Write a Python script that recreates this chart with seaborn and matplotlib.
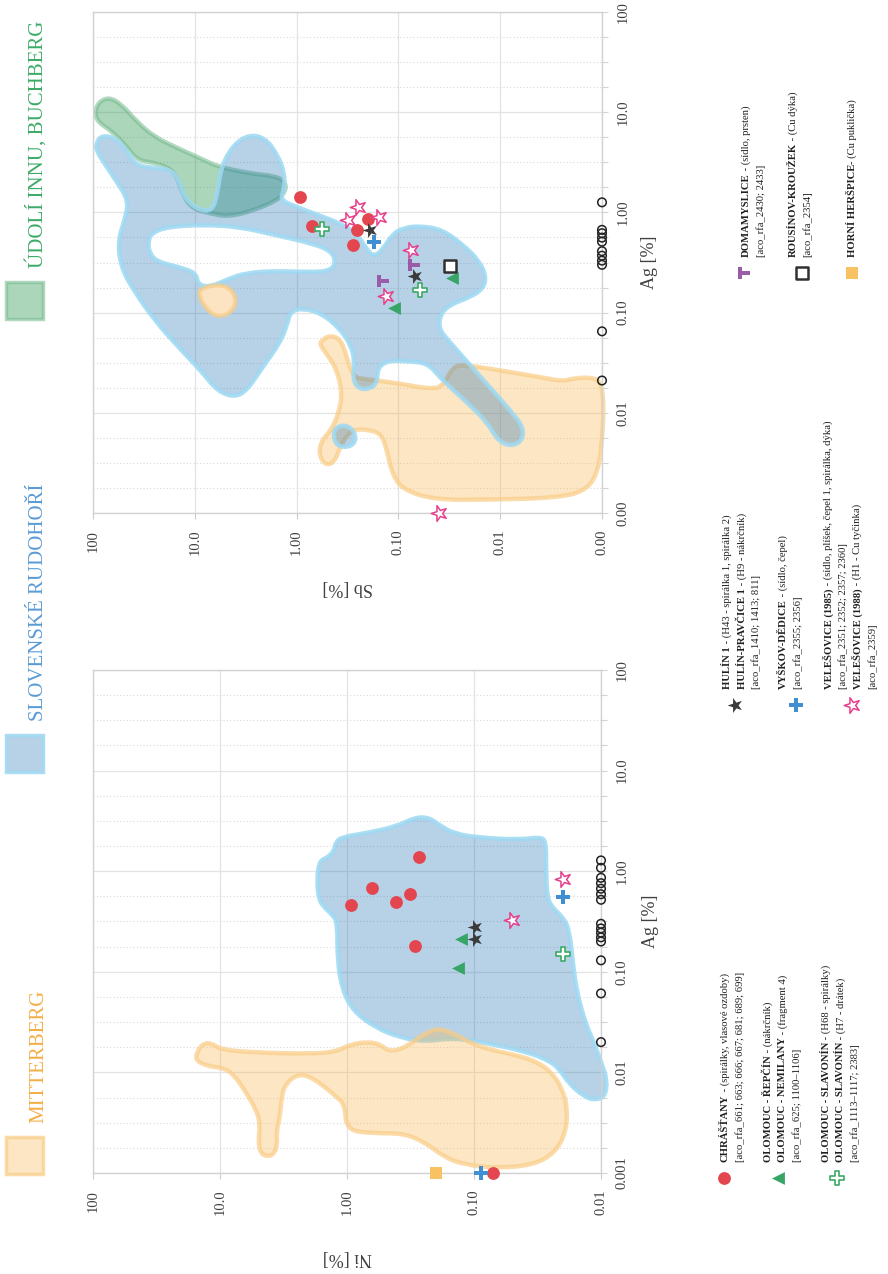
import numpy as np
import matplotlib
matplotlib.use("Agg")
import matplotlib.pyplot as plt
import seaborn as sns
from matplotlib.path import Path
from matplotlib.patches import PathPatch, Rectangle
from matplotlib.markers import MarkerStyle
from matplotlib.transforms import Affine2D

# ------------------------------------------------------------------ axes scales
AG_TICKS = [0.001, 0.01, 0.1, 1, 10, 100]
AG_LABELS_NI = ["0.001", "0.01", "0.10", "1.00", "10.0", "100"]
AG_LABELS_SB = ["0.00", "0.01", "0.10", "1.00", "10.0", "100"]
NI_TICKS = [100, 10, 1, 0.1, 0.01]
NI_LABELS = ["100", "10.0", "1.00", "0.10", "0.01"]
SB_TICKS = [100, 10, 1, 0.1, 0.01, 0.001]
SB_LABELS = ["100", "10.0", "1.00", "0.10", "0.01", "0.00"]

# ------------------------------------------------------------------ Ni vs Ag samples
NI_CHRASTANY_AG = [1.38, 0.68, 0.60, 0.49, 0.46, 0.18, 0.001]
NI_CHRASTANY = [0.27, 0.63, 0.32, 0.41, 0.93, 0.29, 0.071]
NI_HULIN_AG = [0.28, 0.21]
NI_HULIN = [0.099, 0.099]
NI_OLOMOUC_AG = [0.21, 0.109]
NI_OLOMOUC = [0.127, 0.134]
NI_VYSKOV_AG = [0.56, 0.001]
NI_VYSKOV = [0.0198, 0.088]
NI_SLAVONIN_AG = [0.149]
NI_SLAVONIN = [0.020]
NI_VELESOVICE_AG = [0.83, 0.33]
NI_VELESOVICE = [0.020, 0.050]
NI_HERSPICE_AG = [0.001]
NI_HERSPICE = [0.20]
NI_FLOOR = 0.01
NI_BELOW_FLOOR_AG = [1.28, 1.08, 0.86, 0.76, 0.67, 0.59, 0.52, 0.30, 0.27, 0.245,
                     0.22, 0.20, 0.13, 0.061, 0.020]

# ------------------------------------------------------------------ Sb vs Ag samples
SB_CHRASTANY_AG = [1.44, 0.74, 0.85, 0.67, 0.47]
SB_CHRASTANY = [0.92, 0.70, 0.20, 0.255, 0.28]
SB_HULIN_AG = [0.67, 0.23]
SB_HULIN = [0.19, 0.068]
SB_VYSKOV_AG = [0.51]
SB_VYSKOV = [0.173]
SB_SLAVONIN_AG = [0.69, 0.167]
SB_SLAVONIN = [0.56, 0.061]
SB_OLOMOUC_AG = [0.112, 0.223]
SB_OLOMOUC = [0.111, 0.030]
SB_ROUSINOV_AG = [0.29]
SB_ROUSINOV = [0.031]
SB_DOMAMYSLICE_AG = [0.207, 0.30]
SB_DOMAMYSLICE = [0.141, 0.070]
SB_VELESOVICE_AG = [1.13, 0.84, 0.89, 0.42, 0.146, 0.001]
SB_VELESOVICE = [0.248, 0.31, 0.156, 0.076, 0.132, 0.040]
SB_FLOOR = 0.001
SB_BELOW_FLOOR_AG = [1.26, 0.67, 0.62, 0.56, 0.51, 0.41, 0.37, 0.33, 0.30, 0.065, 0.021]

# ------------------------------------------------------------------ ore-field outlines (log10 %)
# Slovenské rudohoří, Ni plot
SR_NI_LOGNI = [0.217, 0.160, 0.103, 0.089, 0.033, -0.166, -0.392, -0.534, -0.647, -0.732,
               -0.845, -1.043, -1.355, -1.524, -1.567, -1.567, -1.575, -1.624, -1.708, -1.751,
               -1.779, -1.808, -1.878, -1.949, -2.006, -2.048, -2.034, -1.949, -1.864, -1.751,
               -1.666, -1.581, -1.411, -1.128, -0.845, -0.619, -0.420, -0.222, -0.052, 0.033,
               0.075, 0.075, 0.117, 0.188, 0.225, 0.236]
SR_NI_LOGAG = [0.100, 0.133, 0.193, 0.293, 0.341, 0.382, 0.446, 0.534, 0.534, 0.454,
               0.373, 0.333, 0.313, 0.341, 0.293, 0.052, -0.269, -0.369, -0.470, -0.590,
               -0.912, -1.193, -1.514, -1.715, -1.916, -2.076, -2.237, -2.277, -2.237, -2.116,
               -1.956, -1.876, -1.795, -1.715, -1.655, -1.695, -1.655, -1.554, -1.394, -1.193,
               -0.912, -0.510, -0.430, -0.349, -0.269, -0.068]
# Mitterberg, Ni plot
MB_NI_LOGNI = [1.179, 1.137, 1.066, 0.995, 0.712, 0.287, 0.089, -0.024, -0.166, -0.265,
               -0.321, -0.420, -0.520, -0.647, -0.746, -0.873, -0.987, -1.128, -1.355, -1.496,
               -1.609, -1.694, -1.737, -1.723, -1.638, -1.468, -1.185, -0.930, -0.760, -0.619,
               -0.449, -0.222, 0.004, 0.018, 0.089, 0.202, 0.316, 0.401, 0.485, 0.514,
               0.528, 0.556, 0.548, 0.570, 0.627, 0.684, 0.698, 0.684, 0.712, 0.797,
               0.882, 0.967, 1.108, 1.193]
MB_NI_LOGAG = [-1.795, -1.715, -1.707, -1.775, -1.803, -1.815, -1.795, -1.723, -1.695, -1.723,
               -1.787, -1.775, -1.695, -1.586, -1.566, -1.635, -1.715, -1.775, -1.835, -1.896,
               -1.996, -2.157, -2.357, -2.598, -2.799, -2.920, -2.952, -2.920, -2.839, -2.699,
               -2.606, -2.606, -2.578, -2.317, -2.237, -2.116, -2.028, -2.028, -2.116, -2.237,
               -2.438, -2.598, -2.699, -2.807, -2.839, -2.799, -2.679, -2.518, -2.378, -2.197,
               -2.036, -1.956, -1.936, -1.876]
# Údolí Innu / Buchberg, Sb plot
UI_SB_LOGSB = [1.983, 1.948, 1.843, 1.720, 1.580, 1.406, 1.161, 0.916, 0.776, 0.462,
               0.217, 0.112, 0.105, 0.182, 0.427, 0.671, 0.846, 1.021, 1.108, 1.161,
               1.231, 1.406, 1.563, 1.685, 1.825, 1.948]
UI_SB_LOGAG = [0.990, 1.099, 1.151, 1.079, 0.918, 0.758, 0.638, 0.526, 0.458, 0.389,
               0.365, 0.309, 0.217, 0.125, 0.017, -0.043, -0.011, 0.037, 0.157, 0.317,
               0.438, 0.498, 0.518, 0.678, 0.818, 0.898]
# Slovenské rudohoří, Sb plot (outer rim, inner gap, small islet)
SR_SB_LOGSB = [1.972, 1.923, 1.790, 1.668, 1.580, 1.423, 1.248, 1.161, 1.108, 0.986,
               0.829, 0.776, 0.741, 0.619, 0.462, 0.304, 0.189, 0.119, 0.119, 0.164,
               0.007, -0.203, -0.413, -0.587, -0.685, -0.762, -0.850, -0.937, -1.042, -1.217,
               -1.427, -1.636, -1.794, -1.864, -1.829, -1.706, -1.497, -1.409, -1.399, -1.497,
               -1.671, -1.881, -2.091, -2.231, -2.213, -2.091, -1.969, -1.881, -1.706, -1.531,
               -1.409, -1.287, -1.112, -0.902, -0.797, -0.790, -0.710, -0.605, -0.552, -0.570,
               -0.535, -0.413, -0.238, -0.063, 0.059, 0.094, 0.164, 0.322, 0.479, 0.601,
               0.776, 0.934, 1.161, 1.388, 1.598, 1.727, 1.755, 1.685, 1.650, 1.773,
               1.895, 1.965]
SR_SB_LOGAG = [0.678, 0.766, 0.750, 0.618, 0.470, 0.446, 0.429, 0.337, 0.157, 0.037,
               0.005, 0.197, 0.458, 0.678, 0.778, 0.738, 0.578, 0.397, 0.237, 0.125,
               0.057, -0.023, -0.103, -0.204, -0.364, -0.444, -0.364, -0.224, -0.155, -0.135,
               -0.171, -0.324, -0.484, -0.644, -0.764, -0.845, -0.925, -1.025, -1.165, -1.285,
               -1.486, -1.726, -1.966, -2.147, -2.287, -2.335, -2.267, -2.107, -1.926, -1.766,
               -1.646, -1.506, -1.486, -1.478, -1.546, -1.706, -1.766, -1.758, -1.666, -1.486,
               -1.325, -1.145, -1.005, -0.957, -0.985, -1.125, -1.305, -1.526, -1.766, -1.846,
               -1.786, -1.586, -1.345, -1.085, -0.784, -0.544, -0.284, -0.063, 0.117, 0.317,
               0.498, 0.618]
SR_SB_GAP_LOGSB = [1.423, 1.266, 0.916, 0.566, 0.217, -0.133, -0.343, -0.385, -0.325, -0.133,
                   0.217, 0.497, 0.671, 0.846, 0.969, 0.986, 1.161, 1.371, 1.448, 1.458]
SR_SB_GAP_LOGAG = [-0.204, -0.143, -0.123, -0.143, -0.224, -0.304, -0.384, -0.504, -0.584, -0.596,
                   -0.584, -0.604, -0.664, -0.744, -0.724, -0.604, -0.544, -0.492, -0.404, -0.284]
SR_SB_ISLET_LOGSB = [-0.378, -0.483, -0.570, -0.580, -0.500, -0.395, -0.360]
SR_SB_ISLET_LOGAG = [-2.147, -2.119, -2.187, -2.295, -2.347, -2.327, -2.239]
# Mitterberg, Sb plot (main field and small patch)
MB_SB_LOGSB = [-0.238, -0.325, -0.430, -0.483, -0.552, -0.692, -1.007, -1.322, -1.444, -1.531,
               -1.636, -2.056, -2.406, -2.615, -2.720, -2.930, -3.000, -3.017, -3.000, -2.965,
               -2.860, -2.580, -1.881, -1.357, -1.042, -0.937, -0.885, -0.832, -0.692, -0.552,
               -0.448, -0.378, -0.290, -0.220, -0.238, -0.343, -0.413, -0.448, -0.395, -0.290,
               -0.231]
MB_SB_LOGAG = [-1.285, -1.225, -1.265, -1.405, -1.646, -1.666, -1.706, -1.766, -1.726, -1.546,
               -1.518, -1.586, -1.646, -1.686, -1.654, -1.646, -1.726, -1.966, -2.287, -2.567,
               -2.768, -2.848, -2.868, -2.868, -2.768, -2.607, -2.367, -2.207, -2.167, -2.167,
               -2.287, -2.487, -2.527, -2.427, -2.287, -2.167, -2.006, -1.806, -1.566, -1.405,
               -1.325]
MB_SB_PATCH_LOGSB = [0.951, 0.776, 0.636, 0.584, 0.671, 0.811, 0.916, 0.958]
MB_SB_PATCH_LOGAG = [-0.764, -0.716, -0.764, -0.905, -1.025, -1.037, -0.925, -0.825]

REGION_NAMES = ["MITTERBERG", "SLOVENSKÉ RUDOHOŘÍ", "ÚDOLÍ INNU, BUCHBERG"]

SITE_TEXTS = {
    "chrastany": [[("CHRÁŠŤANY", True), (" - (spirálky, vlasové ozdoby)", False)],
                  [("[aco_rfa_661; 663; 666; 667; 681; 689; 699]", False)]],
    "olomouc": [[("OLOMOUC - ŘEPČÍN", True), (" - (nákrčník)", False)],
                [("OLOMOUC - NEMILANY", True), (" - (fragment 4)", False)],
                [("[aco_rfa_625; 1100–1106]", False)]],
    "slavonin": [[("OLOMOUC - SLAVONÍN", True), (" - (H68 - spirálky)", False)],
                 [("OLOMOUC - SLAVONÍN", True), (" - (H7 - drátek)", False)],
                 [("[aco_rfa_1113–1117; 2383]", False)]],
    "hulin": [[("HULÍN 1", True), (" - (H43 - spirálka 1, spirálka 2)", False)],
              [("HULÍN-PRAVČICE 1", True), (" - (H9 - nákrčník)", False)],
              [("[aco_rfa_1410; 1413; 811]", False)]],
    "vyskov": [[("VYŠKOV-DĚDICE", True), (" - (sídlo, čepel)", False)],
               [("[aco_rfa_2355; 2356]", False)]],
    "velesovice": [[("VELEŠOVICE (1985)", True), (" - (sídlo, plíšek, čepel 1, spirálka, dýka)", False)],
                   [("[aco_rfa_2351; 2352; 2357; 2360]", False)],
                   [("VELEŠOVICE (1988)", True), (" - (H1 - Cu tyčinka)", False)],
                   [("[aco_rfa_2359]", False)]],
    "domamyslice": [[("DOMAMYSLICE", True), (" - (sídlo, prsten)", False)],
                    [("[aco_rfa_2430; 2433]", False)]],
    "rousinov": [[("ROUSÍNOV-KROUŽEK", True), (" - (Cu dýka)", False)],
                 [("[aco_rfa_2354]", False)]],
    "herspice": [[("HORNÍ HERŠPICE", True), ("- (Cu puklička)", False)]],
}

# ------------------------------------------------------------------ styling
sns.set_theme(style="white")
plt.rcParams["font.family"] = ["Liberation Serif", "DejaVu Serif"]
plt.rcParams["axes.unicode_minus"] = False

STAR_LEFT = MarkerStyle("*").get_path().transformed(Affine2D().rotate_deg(90))
TEE_RIGHT = Path([(-1, -1), (-0.3, -1), (-0.3, -0.32), (1, -0.32), (1, 0.32),
                  (-0.3, 0.32), (-0.3, 1), (-1, 1), (-1, -1)], closed=True)

STYLES = {
    "chrastany": dict(marker="o", s=85, color="#e4464f", edgecolor="#e4464f", linewidth=0),
    "hulin": dict(marker=STAR_LEFT, s=130, color="#3b3b3b", edgecolor="#3b3b3b", linewidth=0),
    "olomouc": dict(marker="<", s=85, color="#36a565", edgecolor="#36a565", linewidth=0),
    "vyskov": dict(marker="P", s=95, color="#3f8fd2", edgecolor="#3f8fd2", linewidth=0),
    "slavonin": dict(marker="P", s=110, color="white", edgecolor="#3aaa66", linewidth=1.2),
    "velesovice": dict(marker=STAR_LEFT, s=140, color="white", edgecolor="#e63f8b", linewidth=1.1),
    "domamyslice": dict(marker=TEE_RIGHT, s=70, color="#9a5ba8", edgecolor="#9a5ba8", linewidth=0),
    "rousinov": dict(marker="s", s=85, color="white", edgecolor="#303030", linewidth=1.8),
    "herspice": dict(marker="s", s=85, color="#f8c263", edgecolor="#f8c263", linewidth=0),
    "floor": dict(marker="o", s=38, color="none", edgecolor="#222222", linewidth=1.1),
}

REGION_STYLES = {
    "MITTERBERG": dict(face=(0.98, 0.70, 0.28, 0.32), edge=(0.98, 0.80, 0.52, 0.7), text="#f3ae45"),
    "SLOVENSKÉ RUDOHOŘÍ": dict(face=(0.12, 0.44, 0.71, 0.32), edge=(0.62, 0.85, 0.95, 0.85), text="#5a9bd5"),
    "ÚDOLÍ INNU, BUCHBERG": dict(face=(0.18, 0.60, 0.33, 0.40), edge=(0.45, 0.72, 0.55, 0.55), text="#3cab68"),
}

W, H = 888, 1274
fig = plt.figure(figsize=(W / 100, H / 100), dpi=100, facecolor="white")


def frame(x0, x1, y0, y1):
    return [x0 / W, 1 - y1 / H, (x1 - x0) / W, (y1 - y0) / H]


ax_sb = fig.add_axes(frame(93, 602, 12, 513))
ax_ni = fig.add_axes(frame(93, 601, 670, 1173))


def style_axes(ax, conc_ticks, conc_labels, ag_labels, conc_title, xlabel_y, ylabel_x):
    ax.set_xscale("log")
    ax.set_yscale("log")
    ax.set_xlim(conc_ticks[0], conc_ticks[-1])
    ax.set_ylim(AG_TICKS[0], AG_TICKS[-1])
    ax.set_xticks(conc_ticks, labels=conc_labels)
    ax.set_xticks([], minor=True)
    ax.set_yticks(AG_TICKS, labels=ag_labels)
    minor = [t * 10 ** f for t in AG_TICKS[:-1] for f in (0.25, 0.5, 0.75)]
    ax.set_yticks(minor, minor=True)
    ax.yaxis.set_minor_formatter(matplotlib.ticker.NullFormatter())
    ax.yaxis.tick_right()
    ax.yaxis.set_label_position("right")
    ax.tick_params(axis="x", which="major", bottom=True, top=False, direction="out",
                   length=4.5, width=0.8, color="#cccccc", pad=7.5, labelsize=10.5,
                   labelcolor="#404040", labelrotation=90)
    ax.tick_params(axis="y", which="both", right=True, left=False, direction="out",
                   length=4.5, width=0.8, color="#d4d4d4", pad=6, labelsize=10.5,
                   labelcolor="#404040", labelrotation=90)
    for lab in ax.get_yticklabels():
        lab.set_verticalalignment("center")
    ax.grid(True, which="major", axis="both", color="#e3e3e3", linewidth=0.9)
    ax.grid(True, which="minor", axis="y", color="#d9d9d9", linewidth=0.8,
            linestyle=(0, (1, 2)))
    ax.set_axisbelow(True)
    for sp in ax.spines.values():
        sp.set_color("#d2d2d2")
        sp.set_linewidth(1.0)
    ax.set_xlabel(conc_title, rotation=180, fontsize=13, color="#404040",
                  ha="center", va="center")
    ax.set_ylabel("Ag [%]", rotation=90, fontsize=13, color="#404040",
                  ha="center", va="center")
    ax.xaxis.set_label_coords(0.5, xlabel_y)
    ax.yaxis.set_label_coords(ylabel_x, 0.5)


style_axes(ax_sb, SB_TICKS, SB_LABELS, AG_LABELS_SB, "Sb [%]", -(588 - 513) / 501, (650 - 93) / 509)
style_axes(ax_ni, NI_TICKS, NI_LABELS, AG_LABELS_NI, "Ni [%]", -(1258 - 1173) / 503, (650 - 93) / 508)


def smooth_loop(lx, ly):
    p = np.column_stack([lx, ly]).astype(float)
    mid = (p + np.roll(p, -1, axis=0)) / 2.0
    verts = [mid[-1]]
    codes = [Path.MOVETO]
    for i in range(len(p)):
        verts.extend([p[i], mid[i]])
        codes.extend([Path.CURVE3, Path.CURVE3])
    verts.append(mid[-1])
    codes.append(Path.CLOSEPOLY)
    return np.array(verts), codes


def add_region(ax, loops, name, zorder, face=None):
    st = REGION_STYLES[name]
    vs, cs = [], []
    for lx, ly in loops:
        v, c = smooth_loop(lx, ly)
        vs.append(v)
        cs.extend(c)
    verts = np.power(10.0, np.vstack(vs))
    patch = PathPatch(Path(verts, cs), facecolor=face if face is not None else st["face"],
                      edgecolor=st["edge"], linewidth=3.2, joinstyle="round",
                      zorder=zorder, clip_on=False)
    ax.add_patch(patch)


# ---- Sb plot fields
add_region(ax_sb, [(MB_SB_LOGSB, MB_SB_LOGAG)], "MITTERBERG", 1.0)
add_region(ax_sb, [(UI_SB_LOGSB, UI_SB_LOGAG)], "ÚDOLÍ INNU, BUCHBERG", 1.2)
add_region(ax_sb, [(SR_SB_LOGSB, SR_SB_LOGAG),
                   (SR_SB_GAP_LOGSB[::-1], SR_SB_GAP_LOGAG[::-1]),
                   (SR_SB_ISLET_LOGSB, SR_SB_ISLET_LOGAG)], "SLOVENSKÉ RUDOHOŘÍ", 1.5)
add_region(ax_sb, [(MB_SB_PATCH_LOGSB, MB_SB_PATCH_LOGAG)], "MITTERBERG", 1.8, face="#fce4c3")

# ---- Ni plot fields
add_region(ax_ni, [(SR_NI_LOGNI, SR_NI_LOGAG)], "SLOVENSKÉ RUDOHOŘÍ", 1.0)
add_region(ax_ni, [(MB_NI_LOGNI, MB_NI_LOGAG)], "MITTERBERG", 1.5)


def draw_points(ax, conc, ag, key, zorder=6):
    sns.scatterplot(x=conc, y=ag, ax=ax, legend=False, clip_on=False, zorder=zorder,
                    **STYLES[key])


draw_points(ax_sb, np.full(len(SB_BELOW_FLOOR_AG), SB_FLOOR), SB_BELOW_FLOOR_AG, "floor")
draw_points(ax_sb, SB_CHRASTANY, SB_CHRASTANY_AG, "chrastany")
draw_points(ax_sb, SB_OLOMOUC, SB_OLOMOUC_AG, "olomouc")
draw_points(ax_sb, SB_SLAVONIN, SB_SLAVONIN_AG, "slavonin")
draw_points(ax_sb, SB_ROUSINOV, SB_ROUSINOV_AG, "rousinov")
draw_points(ax_sb, SB_DOMAMYSLICE, SB_DOMAMYSLICE_AG, "domamyslice")
draw_points(ax_sb, SB_VELESOVICE, SB_VELESOVICE_AG, "velesovice")
draw_points(ax_sb, SB_VYSKOV, SB_VYSKOV_AG, "vyskov")
draw_points(ax_sb, SB_HULIN, SB_HULIN_AG, "hulin")

draw_points(ax_ni, np.full(len(NI_BELOW_FLOOR_AG), NI_FLOOR), NI_BELOW_FLOOR_AG, "floor")
draw_points(ax_ni, NI_CHRASTANY, NI_CHRASTANY_AG, "chrastany")
draw_points(ax_ni, NI_OLOMOUC, NI_OLOMOUC_AG, "olomouc")
draw_points(ax_ni, NI_SLAVONIN, NI_SLAVONIN_AG, "slavonin")
draw_points(ax_ni, NI_VELESOVICE, NI_VELESOVICE_AG, "velesovice")
draw_points(ax_ni, NI_HERSPICE, NI_HERSPICE_AG, "herspice")
draw_points(ax_ni, NI_VYSKOV, NI_VYSKOV_AG, "vyskov")
draw_points(ax_ni, NI_HULIN, NI_HULIN_AG, "hulin")

# ------------------------------------------------------------------ legends (page-pixel overlay)
ax_leg = fig.add_axes([0, 0, 1, 1])
ax_leg.set_xlim(0, W)
ax_leg.set_ylim(H, 0)
ax_leg.axis("off")
renderer = fig.canvas.get_renderer()

# ore-field key along the left edge
for name, top in zip(REGION_NAMES, [1137, 735, 282]):
    st = REGION_STYLES[name]
    ax_leg.add_patch(Rectangle((6, top), 37, 37, facecolor=st["face"], edgecolor=st["edge"],
                               linewidth=2.5))
    ax_leg.text(43, top - 14, name, rotation=90, rotation_mode="anchor", ha="left",
                va="baseline", fontsize=15, color=st["text"])


def write_line(x, y, parts, size=7.7):
    for text, bold in parts:
        t = ax_leg.text(x, y, text, rotation=90, rotation_mode="anchor", ha="left",
                        va="center", fontsize=size, color="#1f1f1f",
                        fontweight="bold" if bold else "normal")
        y -= t.get_window_extent(renderer).height


# site key: (style, marker x, marker y, first text line x, text start y)
SITE_LAYOUT = [
    ("chrastany", 724, 1178, 725, 1162),
    ("olomouc", 778, 1178, 768, 1162),
    ("slavonin", 837, 1178, 826, 1162),
    ("hulin", 735, 705, 727, 689),
    ("vyskov", 796, 705, 783, 689),
    ("velesovice", 852, 705, 828, 689),
    ("domamyslice", 744, 273, 746, 257),
    ("rousinov", 802, 273, 793, 257),
    ("herspice", 852, 273, 852, 257),
]
LINE_STEP = 14.8
for key, mx, my, tx, ty in SITE_LAYOUT:
    sns.scatterplot(x=[mx], y=[my], ax=ax_leg, legend=False, clip_on=False, zorder=6,
                    **STYLES[key])
    for i, parts in enumerate(SITE_TEXTS[key]):
        write_line(tx + i * LINE_STEP, ty, parts)

ax_leg.set_xlim(0, W)
ax_leg.set_ylim(H, 0)

fig.savefig("out.png", dpi=100, facecolor="white")
